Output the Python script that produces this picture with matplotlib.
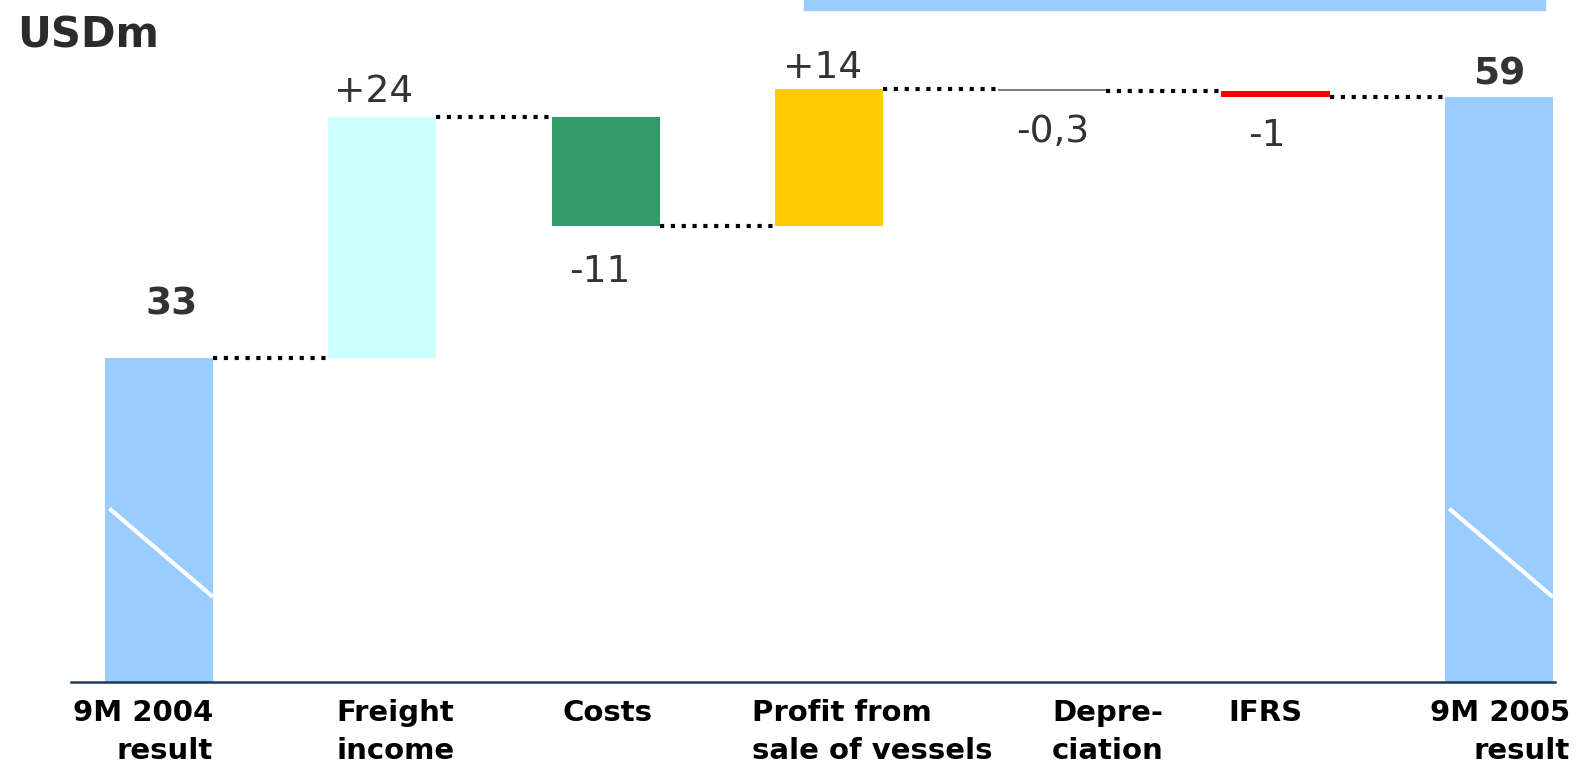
import matplotlib
matplotlib.use("Agg")
import matplotlib.pyplot as plt
from matplotlib.patches import Rectangle

# ---- data ----
categories = ["9M 2004\nresult", "Freight\nincome", "Costs", "Profit from\nsale of vessels",
              "Depre-\nciation", "IFRS", "9M 2005\nresult"]
deltas = [33.0, 24.0, -10.9, 13.7, -0.2, -0.6, 59.0]
is_total = [True, False, False, False, False, False, True]
value_labels = ["33", "+24", "-11", "+14", "-0,3", "-1", "59"]

# ---- style / layout ----
colors = ["#99CCFF", "#CCFFFF", "#339966", "#FFCC00", "#808080", "#FF0000", "#99CCFF"]
bar_w = 0.484
label_dy = [31, 11, -40, 8, -37, -35, 9]          # points, value-label offsets
label_dx = [0.056, -0.04, -0.027, -0.03, 0.0, -0.04, 0.0]
cat_dx = [0.242, -0.206, -0.193, -0.345, 0.0, -0.21, 0.318]
cat_ha = ["right", "left", "left", "left", "left", "left", "right"]

W, H = 1581, 764
x_left, x_right = -0.394, 6.25
px_per_unit = 223.3
ax_left_px = 159 + px_per_unit * x_left
ax_right_px = 159 + px_per_unit * x_right

fig = plt.figure(figsize=(W / 100, H / 100), dpi=100)
fig.patch.set_facecolor("white")
ax = fig.add_axes([ax_left_px / W, 1 - 682 / H, (ax_right_px - ax_left_px) / W, 682 / H])
ax.set_xlim(x_left, x_right)
ax.set_ylim(0.73, 68.66)
for s in ["top", "right", "left"]:
    ax.spines[s].set_visible(False)
ax.spines["bottom"].set_color("#1F3A60")
ax.spines["bottom"].set_linewidth(1.8)
ax.set_xticks([])
ax.set_yticks([])
ax.patch.set_alpha(0)

# top decorative band
fig.patches.append(Rectangle((804 / W, 1 - 10 / H), (1545 - 804) / W, 10 / H,
                             transform=fig.transFigure, color="#99CCFF", zorder=0))

level = 0.0
ends = []
for i, (d, tot) in enumerate(zip(deltas, is_total)):
    if tot:
        bottom, top = 0.0, d
        level = d
    else:
        start = level
        level = level + d
        bottom, top = min(start, level), max(start, level)
    ax.bar(i, top - bottom, bottom=bottom, width=bar_w, color=colors[i],
           edgecolor="none", zorder=1)
    ends.append(level)
    anchor = top if d >= 0 else bottom
    ax.annotate(value_labels[i], xy=(i + label_dx[i], anchor), xytext=(0, label_dy[i]),
                textcoords="offset points", ha="center", va="baseline",
                fontsize=27, fontweight="bold" if tot else "normal",
                color="#333333", annotation_clip=False)
    # break mark on total bars
    if tot:
        ax.plot([i - bar_w / 2 + 0.02, i + bar_w / 2], [18.0, 9.2], color="white",
                lw=3, solid_capstyle="butt", zorder=2)

# connectors
for i in range(len(deltas) - 1):
    ax.plot([i + bar_w / 2, i + 1 - bar_w / 2], [ends[i], ends[i]], color="black",
            lw=3, linestyle=(0, (1, 1.6)), zorder=3)

# category labels
for i, c in enumerate(categories):
    ax.annotate(c, xy=(i + cat_dx[i], 0), xycoords=ax.get_xaxis_transform(),
                xytext=(0, -12.5), textcoords="offset points",
                ha=cat_ha[i], multialignment=cat_ha[i], va="top",
                fontsize=21, fontweight="bold", color="black", linespacing=1.42,
                annotation_clip=False)

fig.text(17 / W, 1 - 48 / H, "USDm", fontsize=30, fontweight="bold",
         color="#2b2b2b", va="baseline", ha="left")

fig.savefig("out.png", dpi=100)
